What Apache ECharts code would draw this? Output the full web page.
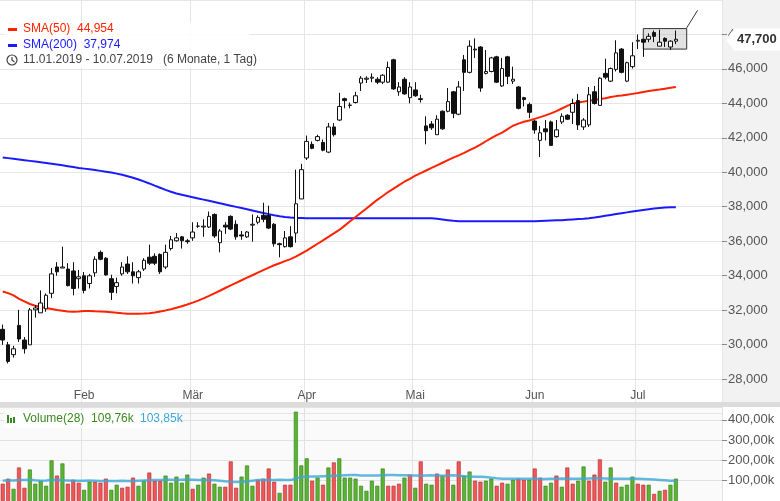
<!DOCTYPE html>
<html><head><meta charset="utf-8">
<script src="https://cdn.jsdelivr.net/npm/echarts@6/dist/echarts.min.js"></script>
<style>html,body{margin:0;padding:0;background:#fff}#c{width:780px;height:501px}</style>
</head><body><div id="c"></div>
<script>
const startDate = '2019-01-11', endDate = '2019-07-10';
const holidays = ['2019-04-19','2019-04-22','2019-05-01','2019-06-10'];
const monthNames = ['Jan','Feb','Mär','Apr','Mai','Jun','Jul'];
// [open, close, low, high]
const candles = [
[30.88,30.26,29.98,31.16],[29.98,29.02,28.90,30.15],[29.41,29.75,29.24,29.92],[31.11,30.32,30.15,32.01],[30.26,29.75,29.47,30.43],
[29.98,32.01,29.98,32.12],[32.01,32.12,31.56,32.29],[31.84,32.41,31.84,33.14],[32.07,32.86,31.90,32.97],[32.97,34.10,32.69,34.44],
[34.50,34.22,33.99,34.78],[34.44,34.50,34.44,35.68],[34.38,33.42,33.37,34.72],[34.27,33.25,32.86,34.78],[33.82,33.93,33.25,34.33],
[33.99,33.14,32.97,34.21],[33.54,33.99,33.25,34.10],[34.16,34.95,33.93,35.12],[35.35,34.95,34.89,35.46],[35.01,34.04,33.99,35.07],
[33.82,33.03,32.58,34.05],[33.37,33.59,32.97,33.88],[34.10,34.50,33.99,34.78],[34.67,34.22,34.10,35.12],[34.22,33.99,33.54,34.78],
[33.88,34.22,33.54,34.33],[34.38,34.89,34.27,35.01],[35.07,34.72,34.61,35.80],[35.12,34.72,34.61,35.29],[35.23,34.22,34.10,35.29],
[34.50,35.35,34.38,35.80],[35.57,36.08,35.46,36.30],[36.02,36.19,35.97,36.47],
[36.25,36.02,35.57,36.30],[36.02,35.97,35.85,36.13],[36.19,36.53,36.02,37.10],[36.87,36.87,36.76,37.10],[36.82,36.87,36.25,37.27],
[36.82,37.44,36.76,37.72],[37.55,36.30,36.19,37.61],[35.91,36.59,35.35,36.70],[36.93,36.82,36.42,37.10],[37.44,36.70,36.64,37.50],
[36.98,36.25,36.08,37.21],[36.36,36.30,36.08,36.59],[36.25,36.53,36.19,36.59],[36.93,36.98,35.97,37.55],[37.10,37.38,36.98,37.50],
[37.50,37.27,37.10,38.23],[37.49,36.76,36.70,38.06],[36.98,35.85,35.68,37.05],[35.85,35.80,35.06,35.91],[35.68,36.19,35.63,36.59],
[36.25,35.68,35.63,36.87],[36.47,38.17,35.91,40.15],[38.45,40.15,38.45,40.49],[40.83,41.79,40.71,42.13],[41.62,41.39,41.34,41.79],
[41.85,42.07,41.79,42.18],[41.73,41.28,41.22,41.90],[41.17,42.63,41.11,42.86],[42.63,42.18,42.07,42.86],[43.03,43.82,42.97,44.61],
[44.27,44.16,43.71,44.33],
[43.88,43.90,43.71,44.05],[44.05,44.44,43.99,44.67],[45.18,45.46,44.72,45.58],[45.40,45.46,45.18,45.57],[45.46,45.52,45.23,45.74],
[45.40,45.23,45.12,45.52],[45.23,45.63,45.12,45.69],[45.23,46.08,45.18,46.42],[46.53,44.84,44.78,46.59],[44.67,44.95,44.44,45.23],
[45.40,44.55,44.50,45.52],[44.33,44.95,44.00,45.23],[44.78,44.44,44.38,45.23],[44.27,44.22,44.05,44.50],[42.69,42.41,41.62,43.25],
[42.80,42.58,42.46,42.97],[42.18,43.08,42.18,43.31],[43.54,42.52,42.46,43.59],[43.54,44.10,43.48,44.89],[44.67,43.42,43.14,44.72],
[43.37,44.95,43.31,45.29],[46.53,45.80,44.72,46.81],[45.80,47.32,45.74,47.66],[47.10,47.15,46.64,47.77],[47.27,44.89,44.67,47.32],
[45.74,45.85,45.68,47.10],[45.85,46.64,45.80,46.70],[46.70,45.23,45.18,46.76],[45.01,46.02,44.95,46.64],[46.70,45.57,45.12,46.76],
[45.29,45.40,45.12,46.13],[44.95,43.71,43.65,45.01],
[44.33,44.22,43.82,44.38],[43.93,43.48,43.14,44.05],[42.97,42.46,42.24,43.03],[41.85,42.29,40.88,42.69],[42.52,42.35,41.85,43.03],
[42.92,41.56,41.56,43.00],[42.07,42.46,42.01,43.03],[42.92,43.25,42.80,43.42],[43.31,43.08,43.03,43.37],[43.48,43.99,42.80,44.27],
[44.16,42.75,42.46,44.55],[42.63,43.03,42.46,43.14],[42.75,44.50,42.63,44.95],[44.67,43.99,43.93,45.01],[43.88,45.46,43.88,45.52],
[45.74,45.52,45.40,46.59],[45.29,46.02,45.23,46.08],[45.97,46.93,45.85,47.66],[47.15,45.80,45.74,47.21],[45.29,46.36,45.23,46.42],
[46.13,46.76,46.02,47.55],[47.61,47.66,47.15,48.00],[47.72,47.55,46.70,47.72],[47.72,47.89,47.55,48.06],[48.11,47.89,47.55,48.23],
[47.32,47.55,47.32,48.28],[47.77,47.61,47.27,47.83],[47.27,47.61,47.10,47.66],[47.61,47.72,47.44,48.23]
];
const sma50 = [
33.08,32.98,32.85,32.65,32.5,32.35,32.25,32.18,32.12,32.06,
32.0,31.96,31.92,31.9,31.92,31.95,31.95,31.93,31.92,31.9,
31.87,31.84,31.81,31.79,31.79,31.79,31.8,31.82,31.86,31.92,
31.98,32.05,32.13,32.22,32.32,32.43,32.55,32.68,32.82,32.97,
33.12,33.28,33.43,33.58,33.73,33.88,34.02,34.17,34.32,34.46,
34.6,34.72,34.84,34.96,35.1,35.28,35.45,35.65,35.85,36.05,
36.25,36.45,36.65,36.9,37.15,37.4,37.65,37.9,38.15,38.4,
38.62,38.85,39.05,39.25,39.45,39.62,39.8,39.95,40.1,40.25,
40.4,40.55,40.7,40.85,40.98,41.12,41.28,41.43,41.6,41.8,
41.98,42.15,42.3,42.5,42.7,42.82,42.93,43.0,43.1,43.2,
43.3,43.42,43.55,43.7,43.85,43.98,44.05,44.1,44.15,44.2,
44.25,44.3,44.37,44.42,44.45,44.5,44.55,44.6,44.66,44.72,
44.76,44.8,44.85,44.9,44.954];
const sma200 = [
40.86,40.82,40.78,40.74,40.7,40.66,40.62,40.58,40.54,40.5,
40.45,40.4,40.35,40.3,40.25,40.21,40.17,40.13,40.08,40.03,
39.98,39.92,39.85,39.77,39.68,39.58,39.47,39.35,39.22,39.1,
38.98,38.87,38.77,38.69,38.62,38.55,38.48,38.41,38.34,38.27,
38.2,38.13,38.06,37.99,37.92,37.85,37.78,37.71,37.64,37.57,
37.5,37.44,37.4,37.37,37.35,37.34,37.33,37.33,37.33,37.33,
37.33,37.33,37.33,37.33,37.33,37.33,37.33,37.33,37.33,37.33,
37.33,37.33,37.33,37.33,37.33,37.33,37.33,37.33,37.33,37.33,
37.3,37.26,37.22,37.18,37.15,37.15,37.15,37.15,37.15,37.15,
37.15,37.15,37.15,37.15,37.15,37.15,37.15,37.15,37.15,37.17,
37.19,37.2,37.21,37.22,37.24,37.26,37.28,37.3,37.33,37.37,
37.42,37.47,37.52,37.57,37.62,37.67,37.72,37.77,37.81,37.85,
37.89,37.92,37.95,37.97,37.974];
const volume = [
85,110,60,165,65,155,85,100,75,200,
125,185,85,105,90,55,95,95,90,
110,55,80,65,70,115,75,100,140,100,
100,125,90,120,90,130,60,80,115,
135,85,70,70,195,65,120,175,75,105,
110,160,95,40,80,80,440,175,210,100,
115,80,165,190,210,115,115,110,75,50,
100,75,160,75,75,85,115,130,65,
195,85,80,135,125,155,80,195,125,145,
100,95,100,110,75,90,85,105,110,
105,105,160,115,75,90,125,70,165,
85,100,170,100,130,205,95,165,90,70,
80,120,85,80,80,35,50,55,80,110];
const volDir = 'rrgrrggggg'+'rgrrrggrr'+'rggrrrggrr'+'rgggggrgg'+'rggrrrgggr'+'rrrgrrgggr'+'grgrgggggg'+'gggrrrgrg'+'rggrgrgrgg'+'rrggrrggr'+'rgrrggrgr'+'rggrrrggrg'+'ggrrgrgrgg';
const volMA = [
100,102,101,103,104,105,102,100,101,103,104,102,101,100,100,
100,101,100,99,99,98,99,100,99,99,100,101,102,103,104,
105,105,104,105,106,105,104,103,104,102,100,97,95,94,95,
97,100,103,104,103,104,105,104,103,110,
118,120,121,121,122,123,124,125,127,128,128,126,125,125,126,
127,128,128,127,127,126,125,124,126,127,125,124,126,127,124,
122,121,120,119,118,115,112,110,109,109,110,110,109,109,108,
108,109,110,111,110,109,109,110,111,112,112,111,110,110,109,
110,109,109,108,107,106,104,102,100,100];
const lastPrice = 47.7;
const yTicks = {min:26, max:50, step:2};

const dates = [];
for (let d = new Date(startDate+'T12:00:00Z'); d <= new Date(endDate+'T12:00:00Z'); d.setUTCDate(d.getUTCDate()+1)) {
  const s = d.toISOString().slice(0,10), wd = d.getUTCDay();
  if (wd===0||wd===6||holidays.includes(s)) continue;
  dates.push(s);
}
const cats = dates.slice(0, candles.length);
const PAD = 8;
for (let i=0;i<PAD;i++) cats.push('p'+i);
const monthStart = new Set();
for (let i=1;i<candles.length;i++) if (cats[i].slice(5,7)!==cats[i-1].slice(5,7)) monthStart.add(i);
const fmt3 = v => v.toFixed(3).replace('.',',');
const fmtK = v => (v/1000).toFixed(2).replace('.',',')+'k';

const graphics = [
    {type:'rect',shape:{x:722,y:0,width:58,height:402},style:{fill:'#f2f2f2'},z:-10,silent:true},
    {type:'rect',shape:{x:0,y:402,width:780,height:5},style:{fill:'#dcdcdc'},z:100},
    {type:'rect',shape:{x:4,y:22,width:245,height:46},style:{fill:'rgba(255,255,255,0.85)'},z:50},
    {type:'rect',shape:{x:8,y:28,width:9,height:3},style:{fill:'#ff2200'},z:51},
    {type:'text',x:23,y:23,style:{text:'SMA(50)  '+fmt3(sma50[sma50.length-1]),fill:'#ff2200',font:'12px "Liberation Sans", Arial'},z:51},
    {type:'rect',shape:{x:8,y:44,width:9,height:3},style:{fill:'#1a1aff'},z:51},
    {type:'text',x:23,y:39,style:{text:'SMA(200)  '+fmt3(sma200[sma200.length-1]),fill:'#1a1aff',font:'12px "Liberation Sans", Arial'},z:51},
    {type:'circle',shape:{cx:12,cy:60,r:5},style:{fill:'none',stroke:'#444',lineWidth:1.2},z:51},
    {type:'polyline',shape:{points:[[12,57],[12,60],[14.5,62]]},style:{stroke:'#444',fill:'none',lineWidth:1.2},z:51},
    {type:'text',x:23,y:54,style:{text:'11.01.2019 - 10.07.2019   (6 Monate, 1 Tag)',fill:'#444',font:'12px "Liberation Sans", Arial'},z:51},
    {type:'rect',shape:{x:4,y:410,width:172,height:18},style:{fill:'#fff'},z:60},
    {type:'rect',shape:{x:7,y:415,width:2,height:8},style:{fill:'#3a8a22'},z:61},
    {type:'rect',shape:{x:10,y:418,width:2,height:5},style:{fill:'#3a8a22'},z:61},
    {type:'rect',shape:{x:13,y:417,width:2,height:6},style:{fill:'#3a8a22'},z:61},
    {type:'text',x:23,y:413,style:{text:'Volume(28)  109,76k',fill:'#3a8a22',font:'12px "Liberation Sans", Arial'},z:61},
    {type:'text',x:140,y:413,style:{text:'103,85k',fill:'#3ea6d6',font:'12px "Liberation Sans", Arial'},z:61}
];

const chart = echarts.init(document.getElementById('c'));
chart.setOption({
  animation:false,
  backgroundColor:'#fff',
  grid:[{left:0,right:58,top:-11.4,height:424.8},{left:0,right:58,top:407,height:95,show:true,backgroundColor:'#fafafa',borderWidth:0}],
  graphic:graphics,
  xAxis:[
    {type:'category',gridIndex:0,data:cats,boundaryGap:true,
     axisLine:{show:false},axisTick:{show:false},
     axisLabel:{inside:true,margin:12,color:'#555',fontSize:12,fontFamily:'Liberation Sans',
       interval:(i)=>monthStart.has(i),formatter:(v)=>monthNames[parseInt(v.slice(5,7))-1]},
     splitLine:{show:true,interval:(i)=>monthStart.has(i),lineStyle:{color:'#e6e6e6'}}},
    {type:'category',gridIndex:1,data:cats,boundaryGap:true,
     axisLine:{show:false},axisTick:{show:false},axisLabel:{show:false},
     splitLine:{show:true,interval:(i)=>monthStart.has(i),lineStyle:{color:'#e2e2e2'}}}
  ],
  yAxis:[
    {type:'value',gridIndex:0,position:'right',min:yTicks.min,max:yTicks.max,interval:yTicks.step,
     axisLine:{show:false},axisTick:{show:true,length:5,lineStyle:{color:'#888'}},
     axisLabel:{color:'#555',fontSize:13,margin:6,fontFamily:'Liberation Sans',showMinLabel:false,showMaxLabel:false,formatter:fmt3},
     splitLine:{lineStyle:{color:'#e6e6e6'}}},
    {type:'value',gridIndex:1,position:'right',min:0,max:463,interval:100,
     axisLine:{show:false},axisTick:{show:true,length:5,lineStyle:{color:'#888'}},
     axisLabel:{color:'#555',fontSize:13,margin:6,fontFamily:'Liberation Sans',showMinLabel:false,showMaxLabel:false,formatter:(v)=>fmtK(v*1000)},
     splitLine:{lineStyle:{color:'#e2e2e2'}}}
  ],
  series:[
    {type:'line',xAxisIndex:0,yAxisIndex:0,data:sma200,symbol:'none',lineStyle:{color:'#1a1aff',width:2},z:3},
    {type:'line',xAxisIndex:0,yAxisIndex:0,data:sma50,symbol:'none',lineStyle:{color:'#ff2200',width:2},z:3},
    {type:'candlestick',xAxisIndex:0,yAxisIndex:0,data:candles,barWidth:4,clip:false,z:4,
     itemStyle:{color:'#fff',color0:'#111',borderColor:'#111',borderColor0:'#111',borderWidth:1},
     markArea:{silent:true,itemStyle:{color:'rgba(190,190,190,0.45)',borderColor:'#333',borderWidth:1},
       data:[[{xAxis:118,yAxis:48.34},{xAxis:126,yAxis:47.15}]]},
     markLine:{silent:true,symbol:'none',animation:false,label:{show:false},
       data:[[{coord:[126,48.38],lineStyle:{color:'#333',width:1,type:'solid'}},{coord:[128,49.4]}]]}
    },
    {type:'bar',xAxisIndex:1,yAxisIndex:1,barWidth:4,z:3,
     data:volume.map((v,i)=>({value:v,itemStyle:{color:volDir[i]==='g'?'#5cb531':'#f0575a',borderColor:volDir[i]==='g'?'#2f7a1a':'#b22a2a',borderWidth:0.6}}))},
    {type:'line',xAxisIndex:1,yAxisIndex:1,data:volMA,symbol:'none',lineStyle:{color:'#3ea6d6',width:2.5,opacity:0.8},z:4}
  ]
});
const py = chart.convertToPixel({yAxisIndex:0}, lastPrice);
graphics.push(
  {type:'polygon',shape:{points:[[726,py],[734,py-11],[780,py-11],[780,py+11],[734,py+11]]},style:{fill:'#fff'},z:200},
  {type:'text',x:737,y:py,style:{text:fmt3(lastPrice),fill:'#333',font:'bold 13px "Liberation Sans", Arial',verticalAlign:'middle'},z:201}
);
chart.setOption({graphic:graphics});
</script></body></html>
